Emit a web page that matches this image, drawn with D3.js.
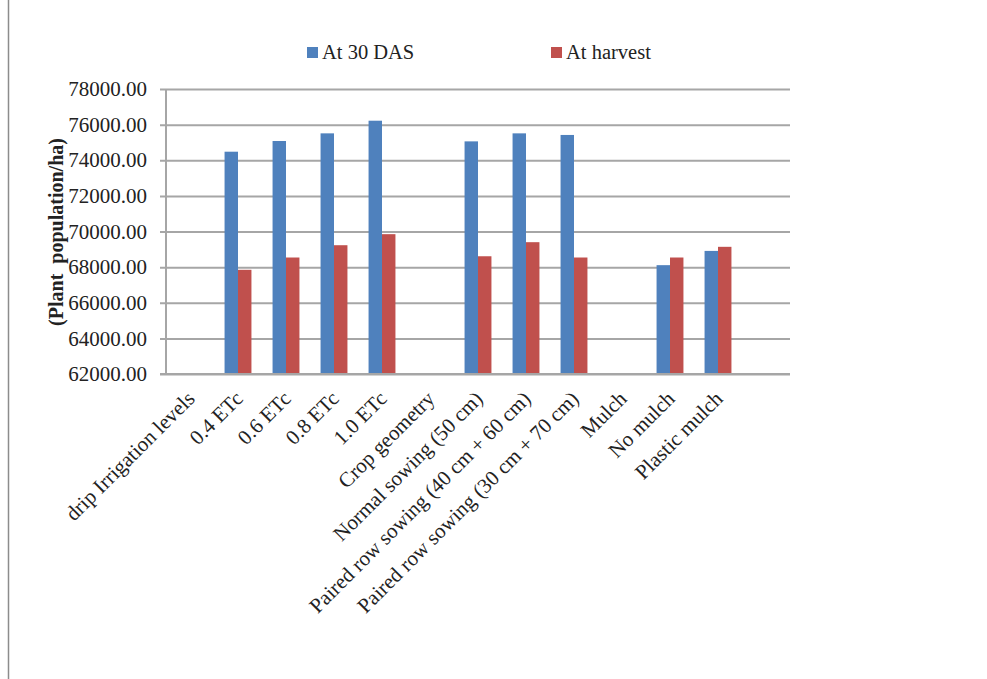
<!DOCTYPE html>
<html><head><meta charset="utf-8">
<script src="https://cdn.jsdelivr.net/npm/d3@7"></script>
<style>
html,body{margin:0;padding:0;background:#fff;}
svg text{font-family:"Liberation Serif","Times New Roman",serif;fill:#222;}
</style></head>
<body><svg id="chart" width="987" height="679"></svg>
<script>
const categories = ["drip Irrigation levels","0.4 ETc","0.6 ETc","0.8 ETc","1.0 ETc","Crop geometry","Normal sowing (50 cm)","Paired row sowing (40 cm + 60 cm)","Paired row sowing (30 cm + 70 cm)","Mulch","No mulch","Plastic mulch",""];
const at30DAS   = [null,74480,75080,75510,76220,null,75060,75510,75420,null,68110,68910,null];
const atHarvest = [null,67850,68540,69230,69850,null,68610,69400,68540,null,68540,69140,null];
const seriesNames = ["At 30 DAS","At harvest"];
const yTicks = [62000,64000,66000,68000,70000,72000,74000,76000,78000];

const FONT = "'Liberation Serif','Times New Roman',serif";
const svg = d3.select("#chart");
const m = {left:166, right:790, top:89, bottom:374};
const x = d3.scaleBand().domain(d3.range(categories.length)).range([m.left,m.right]).paddingInner(0.44).paddingOuter(0.22);
const xc = d3.scaleBand().domain(d3.range(categories.length)).range([m.left,m.right]);
const sub = d3.scaleBand().domain([0,1]).range([0,x.bandwidth()]);
const y = d3.scaleLinear().domain([62000,78000]).range([m.bottom,m.top]);
const colors = ["#4F81BD","#C0504D"];

// left page border line
svg.append("line").attr("x1",8.5).attr("x2",8.5).attr("y1",0).attr("y2",679).attr("stroke","#8c8c8c").attr("stroke-width",1.5);

// gridlines + y axis
const yAxis = d3.axisLeft(y).tickValues(yTicks).tickFormat(d3.format(".2f")).tickSize(-(m.right-m.left)).tickPadding(19);
const yg = svg.append("g").attr("transform",`translate(${m.left},0)`).call(yAxis);
yg.select(".domain").remove();
yg.selectAll(".tick line").attr("stroke","#a6a6a6").attr("stroke-width",2).attr("x1",-6);
yg.selectAll(".tick text").attr("font-size","21px").attr("fill","#222").style("font-family",FONT);

// bars
const series = [at30DAS, atHarvest];
series.forEach((vals,si)=>{
  svg.append("g").selectAll("rect").data(vals.map((v,i)=>({v,i})).filter(d=>d.v!=null))
    .enter().append("rect")
    .attr("x",d=>x(d.i)+sub(si))
    .attr("width",sub.bandwidth())
    .attr("y",d=>y(d.v))
    .attr("height",d=>y(62000)-y(d.v))
    .attr("fill",colors[si]);
});

// vertical axis line
svg.append("line").attr("x1",m.left).attr("x2",m.left).attr("y1",m.top).attr("y2",m.bottom).attr("stroke","#a6a6a6").attr("stroke-width",2);
// bottom axis line
svg.append("line").attr("x1",m.left-6).attr("x2",m.right).attr("y1",m.bottom).attr("y2",m.bottom).attr("stroke","#a6a6a6").attr("stroke-width",2);

// x labels
const xAxis = d3.axisBottom(xc).tickFormat(i=>categories[i]).tickSize(0);
const xg = svg.append("g").attr("transform",`translate(0,${m.bottom})`).call(xAxis);
xg.select(".domain").remove();
xg.selectAll(".tick text")
  .attr("font-size","21px").attr("fill","#222").style("font-family",FONT)
  .attr("text-anchor","end").attr("dy",0).attr("y",0)
  .attr("transform","translate(6,26) rotate(-45)");

// y title
svg.append("text").attr("transform","translate(63,232) rotate(-90)").attr("text-anchor","middle")
  .style("white-space","pre").style("font-family",FONT).attr("fill","#222")
  .attr("font-size","20px").attr("font-weight","bold").text("(Plant  population/ha)");

// legend
const leg = [{x:307},{x:551}];
seriesNames.forEach((n,i)=>{
  const g = svg.append("g").attr("transform",`translate(${leg[i].x},47)`);
  g.append("rect").attr("width",11).attr("height",11).attr("fill",colors[i]);
  g.append("text").attr("x",15).attr("y",11.5).attr("font-size","20.5px")
    .style("font-family",FONT).attr("fill","#222").text(n);
});
</script></body></html>
